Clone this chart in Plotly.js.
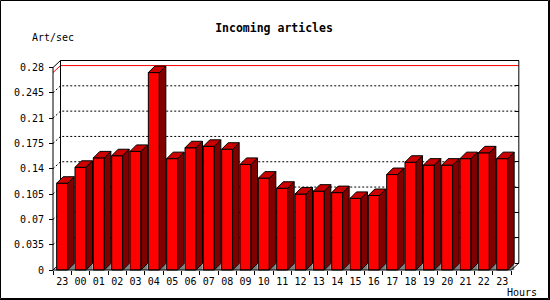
<!DOCTYPE html>
<html>
<head>
<meta charset="utf-8">
<script src="https://cdn.plot.ly/plotly-3.0.1.min.js"></script>
<style>
  html, body { margin: 0; padding: 0; background: #fff; }
  #chart { width: 550px; height: 300px; }
</style>
</head>
<body>
<div id="chart"></div>
<script>
// ---- data ----
const hours = ["23","00","01","02","03","04","05","06","07","08","09","10","11","12","13","14","15","16","17","18","19","20","21","22","23"];
const artPerSec = [0.120,0.142,0.155,0.158,0.164,0.273,0.154,0.169,0.171,0.167,0.146,0.127,0.113,0.105,0.109,0.107,0.099,0.103,0.132,0.149,0.145,0.145,0.154,0.162,0.154];
const yTickVals = [0,0.035,0.07,0.105,0.14,0.175,0.21,0.245,0.28];
const yTickText = ["0","0.035","0.07","0.105","0.14","0.175","0.21","0.245","0.28"];
const chartTitle = "Incoming articles";
const yLabel = "Art/sec";
const xLabel = "Hours";

// ---- geometry (pixels) ----
const L = 52, R = 28, T = 58, B = 28;
const W = 550 - L - R, H = 300 - T - B;
const PXU = 18.333;          // px per category
const PYU = 723.2;           // px per unit value
const xMin = -0.5 - 1 / PXU;
const yMin = -2 / PYU;
const xRange = [xMin, xMin + W / PXU];
const yRange = [yMin, yMin + H / PYU];
const dxp = 7.5 / PXU, dyp = 7 / PYU;   // plane depth
const dxb = 6.5 / PXU, dyb = 6.5 / PYU; // bar depth
const hw = 0.3;
const n = hours.length;
const xL = -0.5, xRf = n - 0.5, xR = xRf + dxp;
const yTop = yTickVals[yTickVals.length - 1];
const px2x = px => (px - L) / W;
const py2y = py => (T + H - py) / H;

const idx = hours.map((_, i) => i);

function polyTrace(fn, fill, lineW) {
  const xs = [], ys = [];
  idx.forEach(i => {
    const pts = fn(i, artPerSec[i]);
    pts.forEach(p => { xs.push(p[0]); ys.push(p[1]); });
    xs.push(null); ys.push(null);
  });
  return {
    type: 'scatter', mode: 'lines', x: xs, y: ys, fill: 'toself',
    fillcolor: fill, line: { color: lineW ? '#000' : fill, width: lineW },
    hoverinfo: 'skip', showlegend: false
  };
}

const greyFaces = polyTrace((i, v) => [[i + hw, 0], [i + hw + dxb, dyb], [i + hw + dxb, 0], [i + hw, 0]], '#808080', 0);
const sideFaces = polyTrace((i, v) => [[i + hw, 0], [i + hw, v], [i + hw + dxb, v + dyb], [i + hw + dxb, dyb], [i + hw, 0]], '#800000', 1);
const topFaces = polyTrace((i, v) => [[i - hw, v], [i - hw + dxb, v + dyb], [i + hw + dxb, v + dyb], [i + hw, v], [i - hw, v]], '#cc0000', 1);

const frontFaces = {
  type: 'bar', x: idx, y: artPerSec, width: 2 * hw,
  marker: { color: '#ff0000', line: { color: '#000', width: 1 } },
  hoverinfo: 'skip', showlegend: false
};

// ---- shapes ----
const shapes = [];
yTickVals.slice(1, -1).forEach(v => {
  shapes.push({ type: 'path', xref: 'x', yref: 'y', layer: 'below',
    path: `M ${xL},${v} L ${xL + dxp},${v + dyp} L ${xR},${v + dyp}`,
    line: { color: '#000', width: 1, dash: '2px,2px' } });
});
const vMax = Math.max(...artPerSec);
shapes.push({ type: 'path', xref: 'x', yref: 'y', layer: 'below',
  path: `M ${xL},${vMax} L ${xL + dxp},${vMax + dyp} L ${xR},${vMax + dyp}`,
  line: { color: '#ff0000', width: 1 } });
shapes.push({ type: 'path', xref: 'x', yref: 'y', layer: 'below',
  path: `M ${xL + dxp},${yTop + dyp} L ${xL + dxp},${dyp} M ${xL},0 L ${xL + dxp},${dyp}`,
  line: { color: '#000', width: 1 } });
shapes.push({ type: 'path', xref: 'x', yref: 'y', layer: 'above',
  path: `M ${xL},0 L ${xL},${yTop} L ${xL + dxp},${yTop + dyp} L ${xR},${yTop + dyp} L ${xR},${dyp} L ${xRf},0 Z`,
  line: { color: '#000', width: 1 } });
// outer image frame
shapes.push({ type: 'rect', xref: 'paper', yref: 'paper',
  x0: px2x(0.5), x1: px2x(548.5), y0: py2y(298.5), y1: py2y(0.5),
  line: { color: '#000', width: 1 } });
shapes.push({ type: 'line', xref: 'paper', yref: 'paper',
  x0: px2x(549.5), x1: px2x(549.5), y0: py2y(300), y1: py2y(0), line: { color: '#000', width: 1 } });
shapes.push({ type: 'line', xref: 'paper', yref: 'paper',
  x0: px2x(0), x1: px2x(550), y0: py2y(299.5), y1: py2y(299.5), line: { color: '#000', width: 1 } });

const tickFont = { family: 'DejaVu Sans Mono', size: 10, color: '#000' };

const layout = {
  width: 550, height: 300,
  margin: { l: L, r: R, t: T, b: B, pad: 0 },
  paper_bgcolor: '#fff', plot_bgcolor: '#fff',
  showlegend: false, hovermode: false,
  bargap: 0,
  title: { text: chartTitle, xref: 'container', yref: 'container', x: 274 / 550, y: 1 - 27.5 / 300,
    xanchor: 'center', yanchor: 'middle',
    font: { family: 'DejaVu Sans Mono', size: 11.5, color: '#000', weight: 'bold' } },
  xaxis: { range: xRange, tickvals: idx, ticktext: hours, ticks: '', showgrid: false, zeroline: false,
    showline: false, tickfont: tickFont, anchor: 'free', position: py2y(270), ticklabelstandoff: 4 },
  xaxis2: { range: xRange, overlaying: 'x', anchor: 'free', position: py2y(270), side: 'bottom',
    tickvals: idx.concat([n]).map(i => i - 0.5), ticks: 'outside', ticklen: 4, tickcolor: '#000',
    showticklabels: false, showgrid: false, zeroline: false, showline: false },
  yaxis: { range: yRange, tickvals: yTickVals, ticktext: yTickText, ticks: 'outside', ticklen: 4, tickcolor: '#000',
    showgrid: false, zeroline: false, showline: false, tickfont: tickFont, anchor: 'free', position: px2x(53),
    ticklabelstandoff: 3 },
  yaxis2: { range: yRange.map(v => v - dyp), overlaying: 'y', side: 'right', anchor: 'free', position: px2x(53 + (xR + 0.5) * PXU),
    tickvals: yTickVals, ticks: 'inside', ticklen: 4, tickcolor: '#000', showticklabels: false,
    showgrid: false, zeroline: false, showline: false },
  shapes: shapes,
  annotations: [
    { text: yLabel, xref: 'paper', yref: 'paper', x: px2x(30), y: py2y(37.5), xanchor: 'left', yanchor: 'middle',
      showarrow: false, font: tickFont },
    { text: xLabel, xref: 'paper', yref: 'paper', x: px2x(505), y: py2y(292.5), xanchor: 'left', yanchor: 'middle',
      showarrow: false, font: tickFont }
  ]
};

// dummy trace to activate the overlay axes
const ax2 = { type: 'scatter', x: [null], y: [null], xaxis: 'x2', yaxis: 'y2', hoverinfo: 'skip', showlegend: false };

Plotly.newPlot('chart', [frontFaces, greyFaces, sideFaces, topFaces, ax2], layout, { displayModeBar: false, staticPlot: true });
</script>
</body>
</html>
